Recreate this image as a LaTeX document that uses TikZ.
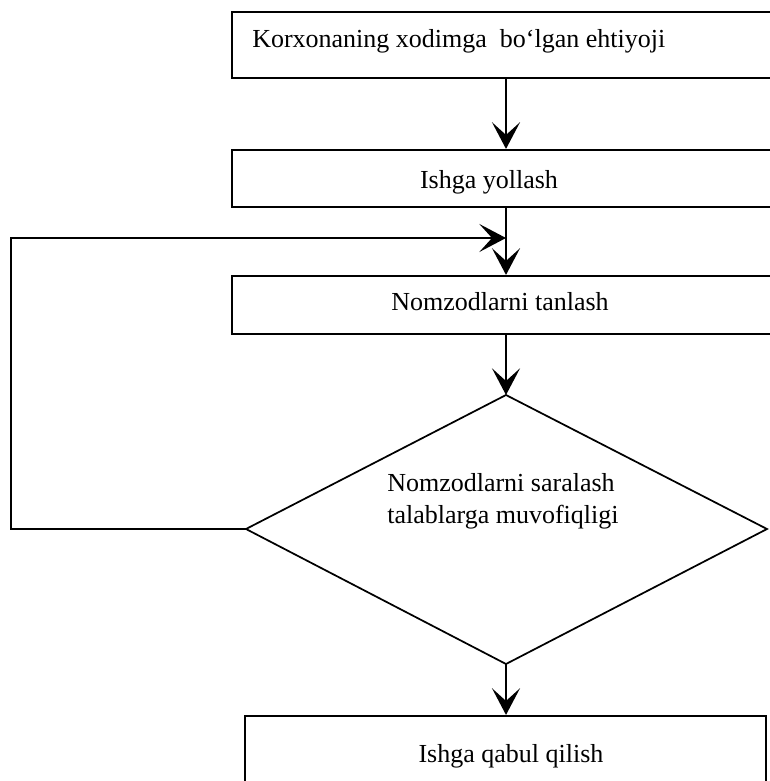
\documentclass[tikz,border=0pt]{standalone}
\usepackage{fontspec}
\setmainfont{Liberation Serif}
\usetikzlibrary{arrows.meta}
\begin{document}
% units: one step = one pixel of a 770 x 781 page, y running downwards
\begin{tikzpicture}[x=0.75pt,y=-0.75pt,
  stepbox/.style={draw=black, line width=1.6pt, rectangle, inner sep=0pt},
  arr/.style={draw=black, line width=1.6pt,
    -{Stealth[length=20pt, width=21pt, inset=9.5pt]}},
  edge/.style={draw=black, line width=1.3pt, line join=miter},
  txt/.style={font=\fontsize{19.5pt}{24pt}\selectfont, inner sep=0pt}]
\useasboundingbox (0,0) rectangle (770,781);
\clip (0,0) rectangle (770,781);

% process boxes
\node[stepbox, minimum width=418.5pt, minimum height=49.5pt]  (need)   at (511,45)    {};
\node[stepbox, minimum width=418.5pt, minimum height=42.75pt] (hire)   at (511,178.5) {};
\node[stepbox, minimum width=418.5pt, minimum height=43.5pt]  (choose) at (511,305)   {};
\node[stepbox, minimum width=390.75pt, minimum height=63pt]   (accept) at (505.5,758) {};

% decision diamond
\coordinate (dt) at (506,395);
\coordinate (dr) at (767,529);
\coordinate (db) at (506,664);
\coordinate (dl) at (246,529);
\draw[edge] (dt) -- (dr) -- (db) -- (dl) -- cycle;

% texts
\node[txt, anchor=base west] (needtxt)   at (252,48)  {Korxonaning xodimga~ bo‘lgan ehtiyoji};
\node[txt, anchor=base]      (hiretxt)   at (489,188) {Ishga yollash};
\node[txt, anchor=base]      (choosetxt) at (500,310) {Nomzodlarni tanlash};
\node[txt, anchor=base west] (checktxt1) at (387,491) {Nomzodlarni saralash};
\node[txt, anchor=base west] (checktxt2) at (387,523) {talablarga muvofiqligi};
\node[txt, anchor=base]      (accepttxt) at (511,762) {Ishga qabul qilish};

% flow
\draw[arr] (need.south -| dt) -- (hire.north -| dt);
\draw[arr] (hire.south -| dt) -- (choose.north -| dt);
\draw[arr] (choose.south -| dt) -- (dt);
\draw[arr] (db) -- (accept.north -| db);

% return loop from the decision
\coordinate (loopdown) at (11,529);
\coordinate (loopup)   at (11,238);
\draw[arr, line join=miter] (dl) -- (loopdown) -- (loopup) -- (loopup -| dt);
\end{tikzpicture}
\end{document}
